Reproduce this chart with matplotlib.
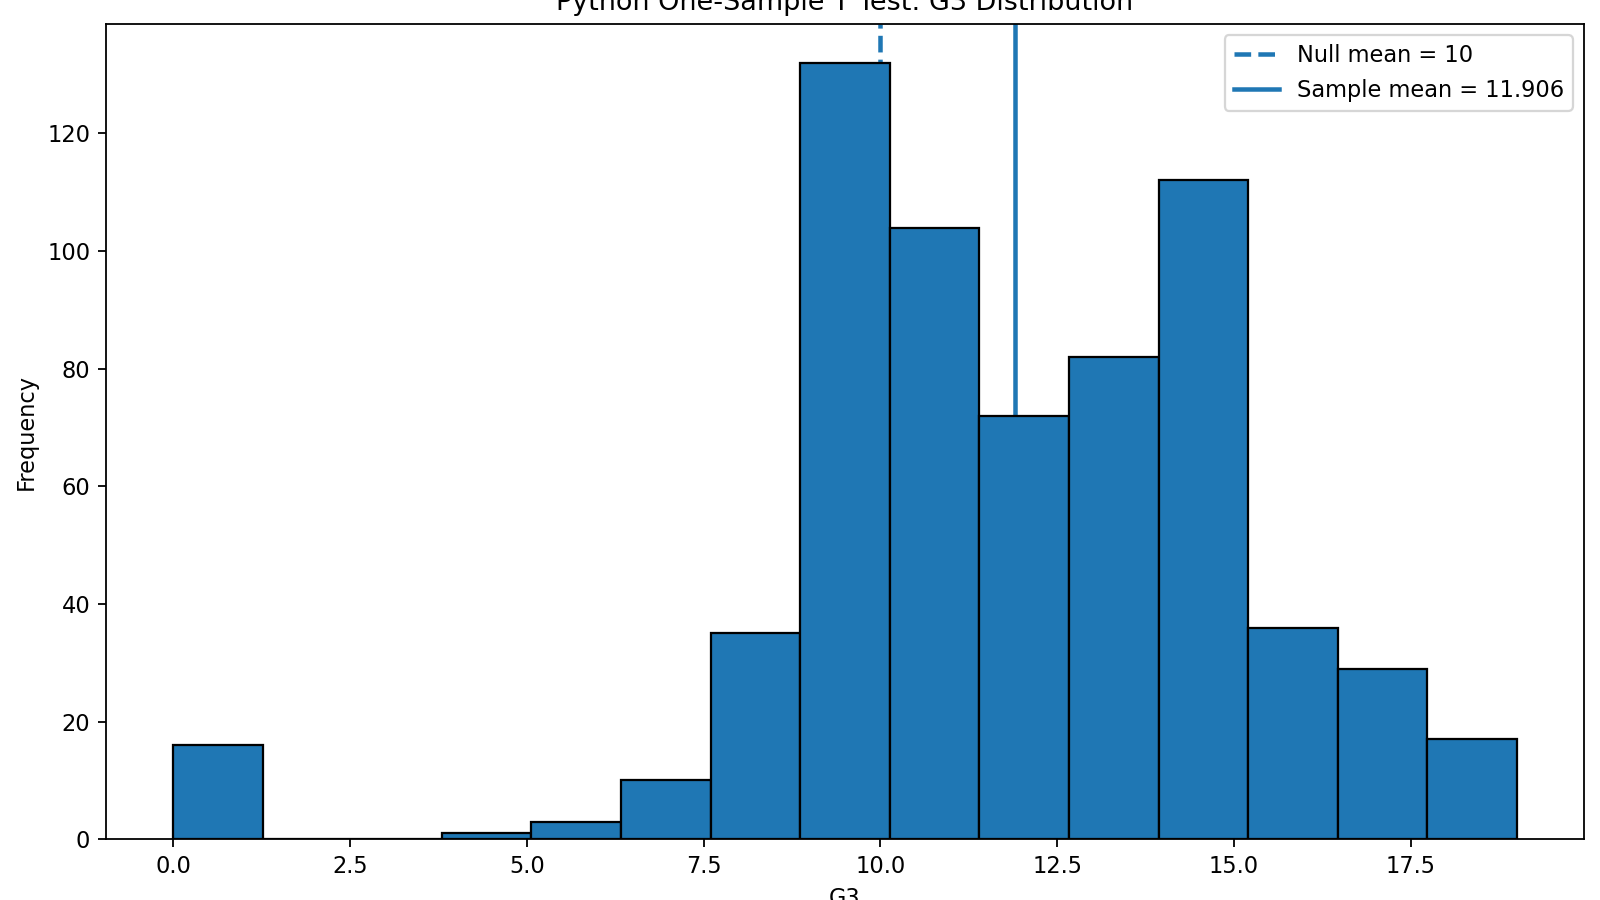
import matplotlib
matplotlib.use("Agg")
import matplotlib.pyplot as plt
import numpy as np

# Data
bin_edges = list(np.linspace(0, 19, 16))
counts = [16, 0, 0, 1, 3, 10, 35, 132, 104, 72, 82, 112, 36, 29, 17]
null_mean = 10
sample_mean = 11.906

DPI = 162
fig = plt.figure(figsize=(1600 / DPI, 900 / DPI), dpi=DPI)
W, H = 1600, 900
left, right, top, bottom = 106, 1584, 24, 839.3
ax = fig.add_axes([left / W, 1 - bottom / H, (right - left) / W, (bottom - top) / H])

ax.axvline(null_mean, linestyle="--", color="#1f77b4", linewidth=2,
           label=f"Null mean = {null_mean}", zorder=0.5)
ax.axvline(sample_mean, linestyle="-", color="#1f77b4", linewidth=2,
           label=f"Sample mean = {sample_mean:.3f}", zorder=0.5)
ax.hist(bin_edges[:-1], bins=bin_edges, weights=counts, color="#1f77b4",
        edgecolor="black", linewidth=1.0, zorder=1)

ax.set_title("Python One-Sample T Test: G3 Distribution")
ax.set_xlabel("G3")
ax.set_ylabel("Frequency")
ax.legend(loc="upper right")

fig.savefig("out.png", dpi=DPI)
